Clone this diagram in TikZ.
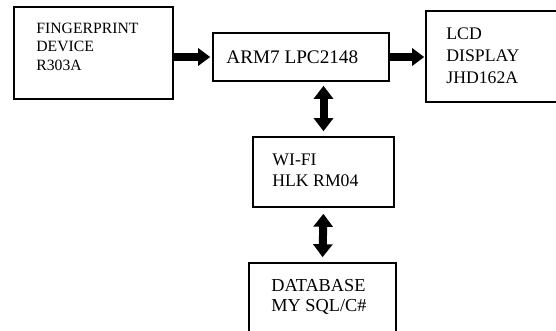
\documentclass[tikz,border=0pt]{standalone}
\usepackage{fontspec}
\setmainfont{Liberation Serif}
\usetikzlibrary{arrows.meta,positioning}

\begin{document}
\begin{tikzpicture}[x=1pt,y=1pt,>={Triangle[width=17pt,length=12pt]},
                    box node/.style={rectangle,draw,line width=1.6pt,inner sep=0pt},
                    text node/.style={inner sep=0pt,align=left,font=\fontsize{17.7}{21}\selectfont},
                    fat arrow/.style={->,line width=8pt},
                    both arrow/.style={{Triangle[width=19pt,length=13pt]}-{Triangle[width=19pt,length=13pt]},line width=8pt}]

  \useasboundingbox (0,0) rectangle (556,-331);
  \clip (0,0) rectangle (556,-331);

  \node[box node,minimum width=159pt,minimum height=92pt] (fp) at (93.5,-53) {};
  \node[box node,minimum width=176pt,minimum height=48pt] (arm) at (301,-57) {};
  \node[box node,minimum width=144pt,minimum height=91pt] (lcd) at (498,-56.5) {};
  \node[box node,minimum width=141pt,minimum height=70pt] (wifi) at (323.5,-172) {};
  \node[box node,minimum width=147pt,minimum height=82pt] (db) at (322.5,-304) {};

  \node[text node,font=\fontsize{15.7}{18.5}\selectfont,anchor=north west,below right=16.6pt and 23pt of fp.north west] (fptext) {FINGERPRINT\\DEVICE\\R303A};
  \node[text node,font=\fontsize{19.2}{21}\selectfont,right=14pt of arm.west] (armtext) {ARM7 LPC2148};
  \node[text node,font=\fontsize{17.7}{22}\selectfont,below right=17.3pt and 21pt of lcd.north west] (lcdtext) {LCD\\DISPLAY\\JHD162A};
  \node[text node,below right=17.3pt and 20pt of wifi.north west] (wifitext) {WI-FI\\HLK RM04};
  \node[text node,font=\fontsize{18.3}{20}\selectfont,below right=17pt and 23pt of db.north west] (dbtext) {DATABASE\\MY SQL/C\#};

  \draw[fat arrow,shorten >=2pt] (fp.east |- arm.west) -- (arm.west);
  \draw[fat arrow,shorten >=1pt] (arm.east) -- (lcd.west |- arm.east);
  \draw[both arrow,shorten <=4pt,shorten >=5pt] (wifi.north |- arm.south) -- (wifi.north);
  \draw[both arrow,shorten <=6pt,shorten >=5pt] (wifi.south) -- (db.north);
\end{tikzpicture}
\end{document}
